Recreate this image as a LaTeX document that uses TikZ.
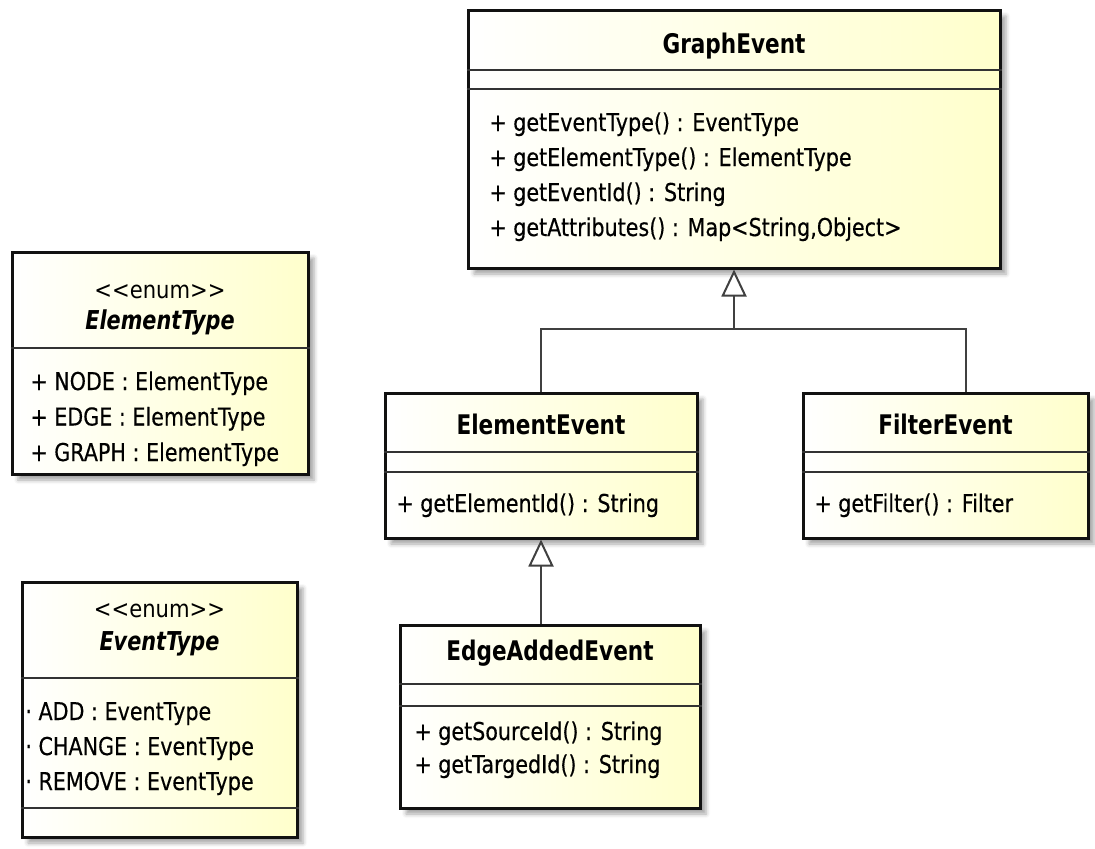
\documentclass[tikz,border=0pt]{standalone}
\usepackage{fontspec}
\newfontfamily\umlfont{DejaVu Sans}[FakeStretch=0.84, FakeBold=0.4]
\newfontfamily\umlplain{DejaVu Sans}[FakeStretch=0.88]
\newfontfamily\umlhead{DejaVu Sans}[FakeStretch=0.8]
\usepackage{tikz}
\usetikzlibrary{arrows.meta,positioning,fit,shadows.blur}
\definecolor{umlfill}{HTML}{FFFFCC}
\definecolor{umlline}{HTML}{111111}
\definecolor{genline}{HTML}{404040}
\tikzset{
  classbox/.style={draw=umlline, line width=1.5pt, left color=white, right color=umlfill, inner sep=0pt,
               blur shadow={shadow xshift=3pt, shadow yshift=-3pt, shadow blur radius=2pt, shadow opacity=35}},
  divider/.style={draw=black!80, line width=1pt},
  classname/.style={font=\umlhead\bfseries\fontsize{13.5}{16}\selectfont, anchor=base, inner sep=0pt},
  enumname/.style={font=\umlhead\bfseries\itshape\fontsize{13}{16}\selectfont, anchor=base, inner sep=0pt},
  stereo/.style={font=\umlplain\fontsize{12}{14}\selectfont, anchor=base, inner sep=0pt},
  member/.style={font=\umlfont\fontsize{12.3}{14}\selectfont, anchor=base west, inner sep=0pt},
  generalize/.style={-{Triangle[open, length=13.5pt, width=12.5pt, fill=white]}, draw=genline, line width=1pt},
  busline/.style={draw=genline, line width=1pt},
}
\newcommand{\divline}[2]{\draw[divider] (#1.west |- 0,#2) -- (#1.east |- 0,#2);}
\newcommand{\members}[5]{%
  \foreach \txt [count=\i] in {#5} {\node[member] (#1-m\i) at (#2,{#3+#4*(\i-1)}) {\txt};}}
\newcommand{\enumtag}{<\kern0pt<enum>\kern0pt>}

\begin{document}
\begin{tikzpicture}[x=0.5pt, y=-0.5pt]
  \useasboundingbox (0,0) rectangle (1095,848);
  % classes
  \node[classbox, fit={(468,10) (1000,268)}] (ge) {};
  \node[classbox, fit={(385,393) (697,538)}] (ee) {};
  \node[classbox, fit={(803,393) (1088,538)}] (fe) {};
  \node[classbox, fit={(400,625) (700,808)}] (ea) {};
  % enums
  \node[classbox, fit={(12,252) (308,474)}] (elemtype) {};
  \node[classbox, fit={(22,582) (297,837)}] (evtype) {};

  \node[classname] (ge-name) at (ge.north |- 0,53) {GraphEvent};
  \divline{ge}{70} \divline{ge}{89}
  \members{ge}{489}{131}{35}{{+ getEventType() : EventType},{+ getElementType() : ElementType},
    {+ getEventId() : String},{+ getAttributes() : Map<String,Object>}}

  \node[classname] (ee-name) at (ee.north |- 0,434) {ElementEvent};
  \divline{ee}{452} \divline{ee}{472}
  \members{ee}{396}{512}{35}{{+ getElementId() : String}}

  \node[classname] (fe-name) at (fe.north |- 0,434) {FilterEvent};
  \divline{fe}{452} \divline{fe}{472}
  \members{fe}{814}{512}{35}{{+ getFilter() : Filter}}

  \node[classname] (ea-name) at (ea.north |- 0,660) {EdgeAddedEvent};
  \divline{ea}{684} \divline{ea}{706}
  \members{ea}{414}{740}{33}{{+ getSourceId() : String},{+ getTargedId() : String}}

  \node[stereo] (elemtype-st) at (elemtype.north |- 0,298) {\enumtag};
  \node[enumname] (elemtype-name) at (elemtype.north |- 0,329) {ElementType};
  \divline{elemtype}{348}
  \members{elemtype}{30}{390}{35.5}{{+ NODE : ElementType},{+ EDGE : ElementType},{+ GRAPH : ElementType}}

  \node[stereo] (evtype-st) at (evtype.north |- 0,617) {\enumtag};
  \node[enumname] (evtype-name) at (evtype.north |- 0,650) {EventType};
  \divline{evtype}{678}
  \members{evtype}{25}{720}{35}{{· ADD : EventType},{· CHANGE : EventType},{· REMOVE : EventType}}
  \divline{evtype}{808}

  % generalizations
  \coordinate (bus) at (ge.south |- 0,329);
  \draw[generalize] (bus) -- (ge.south);
  \draw[busline] (ee.north) |- (bus) -| ([xshift=10pt]fe.north);
  \draw[generalize] (ee.south |- ea.north) -- (ee.south);
\end{tikzpicture}
\end{document}
